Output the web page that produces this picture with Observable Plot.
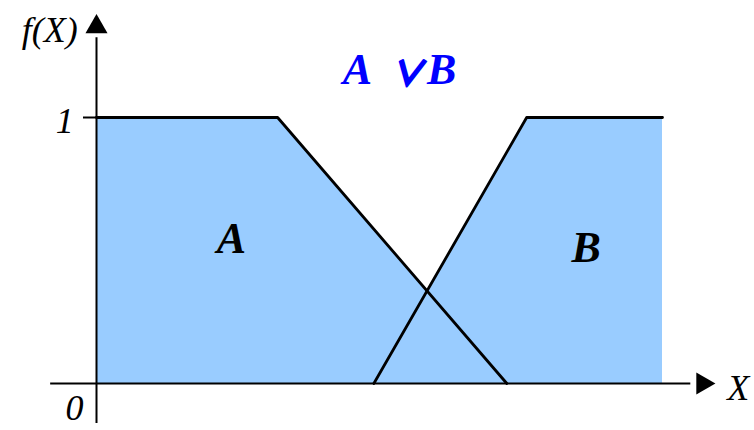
<!DOCTYPE html>
<html>
<head>
<meta charset="utf-8">
<script src="https://cdn.jsdelivr.net/npm/d3@7"></script>
<script src="https://cdn.jsdelivr.net/npm/@observablehq/plot@0.6"></script>
<style>
  html, body { margin: 0; padding: 0; background: #fff; }
</style>
</head>
<body>
<div id="chart"></div>
<script>
// Fuzzy set A (membership breakpoints)
const aX = [0, 3.2, 7.25];
const aY = [1, 1, 0];
// Fuzzy set B
const bX = [4.9, 7.6, 10];
const bY = [0, 1, 1];
// Labels
const setLabels = ["A", "B"];
const titleSets = ["A", "B"];
const titleOp = "\u2228";
const yAxisLabel = "f(X)";
const xAxisLabel = "X";
const yTicks = [1];
const originLabel = "0";

const A = aX.map((x, i) => ({x, y: aY[i]}));
const B = bX.map((x, i) => ({x, y: bY[i]}));

const serif = "'Liberation Serif', 'Times New Roman', serif";
const fill = "#99ccff";

const chart = Plot.plot({
  width: 754,
  height: 430,
  marginLeft: 96,
  marginRight: 92,
  marginTop: 117,
  marginBottom: 47,
  x: {domain: [0, 10], axis: null},
  y: {domain: [0, 1], axis: null},
  style: {fontFamily: serif, background: "#fff", overflow: "visible"},
  marks: [
    Plot.areaY(A, {x: "x", y: "y", fill}),
    Plot.areaY(B, {x: "x", y: "y", fill}),
    // x axis line + arrow
    Plot.ruleY([0], {x1: -0.81, x2: 10.5, stroke: "black", strokeWidth: 2}),
    Plot.dot([0], {x: 10.71, y: 0, symbol: "triangle", r: 8.2, rotate: 90, fill: "black", stroke: "none"}),
    // y axis line + arrow
    Plot.ruleX([0], {y1: -0.15, y2: 1.3, stroke: "black", strokeWidth: 2}),
    Plot.dot([0], {x: 0, y: 1.341, symbol: "triangle", r: 8.2, fill: "black", stroke: "none"}),
    // tick at 1
    Plot.ruleY(yTicks, {x1: -0.23, x2: 0, stroke: "black", strokeWidth: 2}),
    // set outlines
    Plot.line(A, {x: "x", y: "y", stroke: "black", strokeWidth: 2.8}),
    Plot.line(B, {x: "x", y: "y", stroke: "black", strokeWidth: 2.8}),
    // axis labels
    Plot.text(yTicks, {x: -0.4, y: d => d - 0.015, text: d => String(d), textAnchor: "end", fontFamily: serif, fontSize: 36, fontStyle: "italic", fill: "black"}),
    Plot.text([originLabel], {x: -0.39, y: -0.094, text: d => d, fontFamily: serif, fontSize: 36, fontStyle: "italic", fill: "black"}),
    Plot.text([yAxisLabel], {x: -0.33, y: 1.327, text: d => d, textAnchor: "end", fontFamily: serif, fontSize: 36, fontStyle: "italic", fill: "black"}),
    Plot.text([xAxisLabel], {x: 11.34, y: -0.019, text: d => d, fontFamily: serif, fontSize: 36, fontStyle: "italic", fill: "black"}),
    // set labels
    Plot.text(setLabels, {x: [2.385, 8.65], y: [0.545, 0.509], text: d => d, fontFamily: serif, fontSize: 44, fontStyle: "italic", fontWeight: "bold", fill: "black"}),
    // title  A ∨ B
    Plot.text(titleSets, {x: [4.61, 6.10], y: [1.18, 1.18], text: d => d, fontFamily: serif, fontSize: 44, fontStyle: "italic", fontWeight: "bold", fill: "#0000ff"}),
    Plot.text([titleOp], {x: 5.48, y: 1.16, text: d => d, fontFamily: "'Noto Sans CJK SC', sans-serif", fontSize: 34, fontWeight: "bold", fontStyle: "italic", fill: "#0000ff", stroke: "#0000ff", strokeWidth: 1.8})
  ]
});
document.getElementById("chart").appendChild(chart);
</script>
</body>
</html>
